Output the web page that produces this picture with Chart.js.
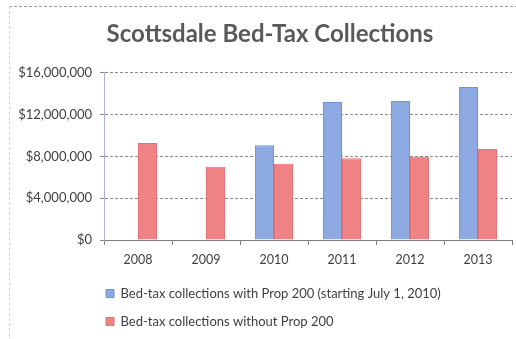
<!DOCTYPE html>
<html>
<head>
<meta charset="utf-8">
<script src="https://cdn.jsdelivr.net/npm/chart.js@4.4.1/dist/chart.umd.min.js"></script>
<style>
  html, body { margin: 0; padding: 0; background: #ffffff; }
  #wrap { position: relative; width: 516px; height: 339px; overflow: hidden; }
  #frame {
    position: absolute; left: 9px; top: 6px; right: -2px; bottom: -2px;
    border-top: 1px dashed #9a9a9a; border-left: 1px dashed #d4d4d4;
  }
  canvas { position: absolute; left: 0; top: 0; }
</style>
</head>
<body>
<div id="wrap">
  <div id="frame"></div>
  <canvas id="chart" width="516" height="339"></canvas>
</div>
<script>
// Fiscal years shown on the category axis
const years = ['2008', '2009', '2010', '2011', '2012', '2013'];

// Collections with Prop 200 in effect (from July 1, 2010)
const withProp200 = [null, null, 9060000, 13200000, 13300000, 14640000];

// Collections that would have come in without Prop 200
const withoutProp200 = [9280000, 7010000, 7300000, 7820000, 7970000, 8710000];

// Value axis ticks and their printed labels
const yTicks = [0, 4000000, 8000000, 12000000, 16000000];
const yTickLabels = ['$0', '$4,000,000', '$8,000,000', '$12,000,000', '$16,000,000'];

const seriesNames = [
  'Bed-tax collections with Prop 200 (starting July 1, 2010)',
  'Bed-tax collections without Prop 200'
];

const FONT = 'Lato, "Open Sans", "Liberation Sans", sans-serif';

// Nudge the title right and place the stacked legend rows under the plot
const blockShift = {
  id: 'blockShift',
  afterLayout(chart) {
    const t = chart.titleBlock;
    if (t) {
      t.left += 10;
      t.right += 10;
    }
    const lg = chart.legend;
    if (lg) {
      const w = lg.right - lg.left;
      lg.left = 91;
      lg.right = lg.left + w;
      lg.top -= 1;
      lg.bottom -= 1;
    }
  }
};

new Chart(document.getElementById('chart'), {
  type: 'bar',
  data: {
    labels: years,
    datasets: [
      {
        label: seriesNames[0],
        data: withProp200,
        backgroundColor: '#8eaae3',
        borderColor: '#6f90d8',
        borderWidth: 1,
        borderSkipped: 'bottom'
      },
      {
        label: seriesNames[1],
        data: withoutProp200,
        backgroundColor: '#ee8285',
        borderColor: '#e66f72',
        borderWidth: 1,
        borderSkipped: 'bottom'
      }
    ]
  },
  plugins: [blockShift],
  options: {
    responsive: false,
    animation: false,
    devicePixelRatio: 1,
    layout: { padding: { left: 8, right: 4, top: 0, bottom: 0 } },
    datasets: {
      bar: { categoryPercentage: 0.56, barPercentage: 1.0 }
    },
    plugins: {
      title: {
        display: true,
        text: 'Scottsdale Bed-Tax Collections',
        color: '#595959',
        font: { family: FONT, size: 24, weight: 'bold' },
        padding: { top: 20, bottom: 24 }
      },
      legend: {
        display: true,
        position: 'bottom',
        align: 'start',
        labels: {
          color: '#404040',
          font: { family: FONT, size: 13 },
          boxWidth: 8,
          boxHeight: 8,
          padding: 15
        }
      },
      tooltip: { enabled: false }
    },
    scales: {
      x: {
        grid: {
          display: true,
          drawOnChartArea: false,
          drawTicks: true,
          tickLength: 5,
          color: '#7f7f7f'
        },
        border: { display: true, color: '#7f7f7f' },
        ticks: {
          color: '#404040',
          font: { family: FONT, size: 12.5 },
          padding: 7
        },
        afterFit(scale) { scale.height -= 1; }
      },
      y: {
        min: 0,
        max: 16000000,
        afterBuildTicks(scale) {
          scale.ticks = yTicks.map(v => ({ value: v }));
        },
        ticks: {
          color: '#404040',
          font: { family: FONT, size: 13 },
          padding: 8,
          callback: (v) => yTickLabels[yTicks.indexOf(v)]
        },
        grid: {
          color: '#8a8a8a',
          tickLength: 4,
          drawTicks: true
        },
        border: { display: true, color: '#a9b5d6', dash: [3, 2] },
        afterFit(scale) { scale.width = 96; }
      }
    }
  }
});
</script>
</body>
</html>
